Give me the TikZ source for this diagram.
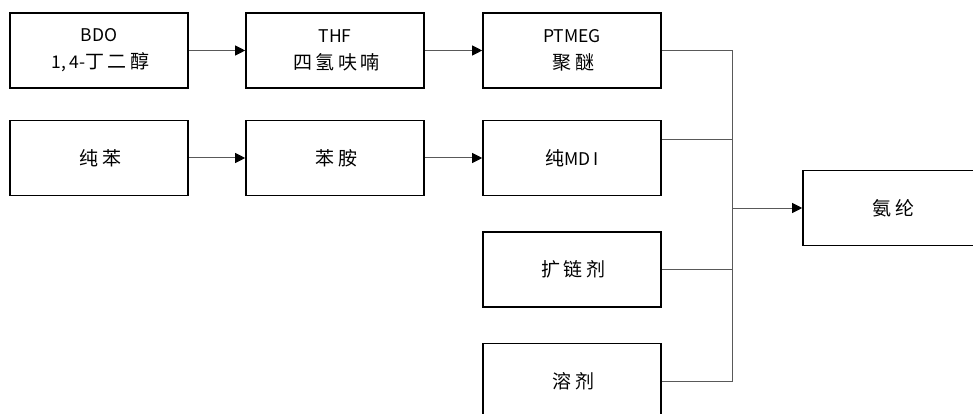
\documentclass[tikz,border=0pt]{standalone}
\usepackage{fontspec}
\setmainfont{Noto Sans CJK SC}
\newfontfamily\cjsp[LetterSpace=18]{Noto Sans CJK SC}
\newcommand{\cjtxt}[1]{{\cjsp\fontsize{19}{27}\selectfont #1\kern-3pt}}
\usetikzlibrary{arrows.meta}
\begin{document}
\begin{tikzpicture}[x=1pt,y=-1pt,
  box/.style={draw=black,line width=1.6pt,minimum width=178pt,minimum height=75pt,inner sep=0pt,align=center,font=\fontsize{17.5}{27}\selectfont},
  conn/.style={draw=black!65,line width=1pt},
  arr/.style={conn,-{Triangle[length=10pt,width=10pt,color=black]}}]
\useasboundingbox (0,0) rectangle (973,414);
\node[box] (A) at (99,50.5) {BDO\\1,\,4-\cjtxt{丁二醇}};
\node[box] (B) at (335,50.5) {THF\\\cjtxt{四氢呋喃}};
\node[box] (C) at (572,50.5) {PTMEG\\\cjtxt{聚醚}};
\node[box] (D) at (99,158) {\cjtxt{纯苯}};
\node[box] (E) at (335,158) {\cjtxt{苯胺}};
\node[box] (F) at (572,158) {{\fontsize{19}{27}\selectfont 纯}MD\,I};
\node[box] (G) at (572,269.5) {\cjtxt{扩链剂}};
\node[box] (H) at (572,381) {\cjtxt{溶剂}};
\node[box] (O) at (892,208) {\cjtxt{氨纶}};
\coordinate (J) at (732,208);
\draw[arr] (A) -- (B);
\draw[arr] (B) -- (C);
\draw[arr] (D) -- (E);
\draw[arr] (E) -- (F);
\draw[conn] (C.east) -| (J);
\draw[conn] ([yshift=18pt]F.east) -| (J);
\draw[conn] (G.east) -| (J);
\draw[conn] (H.east) -| (J);
\draw[arr] (J) -- (O);
\end{tikzpicture}
\end{document}
